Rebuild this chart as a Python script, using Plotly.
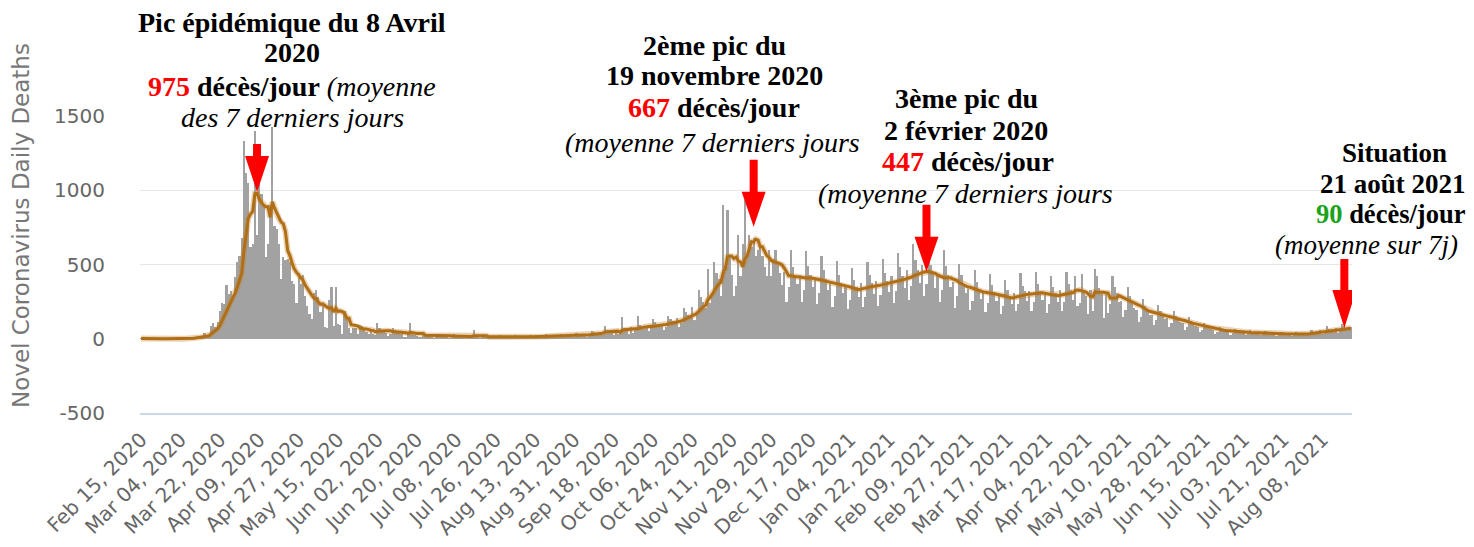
import pandas as pd
import plotly.graph_objects as go

# ---------------- data ----------------
START_DATE = "2020-02-15"          # first day shown
# daily deaths, one row per week (Sat .. Fri)
daily_deaths = [
    1, 0, 0, 0, 0, 0, 0,
    0, 0, 0, 0, 0, 0, 0,
    0, 0, 1, 1, 0, 2, 1,
    3, 2, 9, 8, 15, 13, 18,
    12, 36, 21, 27, 89, 108, 78,
    112, 186, 240, 231, 365, 299, 319,
    292, 418, 520, 560, 680, 1335, 1114,
    1047, 620, 640, 1400, 700, 1055, 974,
    907, 550, 640, 900, 1423, 760, 740,
    640, 400, 550, 530, 540, 520, 390,
    370, 240, 440, 370, 430, 290, 220,
    170, 135, 310, 330, 280, 180, 240,
    80, 70, 260, 350, 85, 350, 100,
    95, 35, 185, 130, 75, 40, 75,
    70, 35, 90, 85, 65, 45, 30,
    50, 30, 25, 107, 75, 60, 45,
    40, 20, 30, 70, 60, 55, 45,
    30, 10, 15, 40, 107, 30, 25,
    20, 8, 15, 40, 30, 30, 25,
    15, 5, 12, 35, 28, 25, 20,
    14, 4, 10, 30, 24, 20, 16,
    12, 4, 8, 25, 20, 60, 14,
    10, 3, 8, 25, 18, 14, 12,
    10, 3, 7, 22, 16, 14, 12,
    9, 3, 8, 22, 17, 13, 11,
    11, 4, 9, 25, 20, 15, 14,
    14, 5, 10, 30, 24, 19, 17,
    17, 6, 13, 35, 28, 23, 19,
    20, 8, 15, 40, 34, 28, 23,
    27, 10, 22, 52, 44, 38, 31,
    46, 27, 87, 62, 50, 45, 26,
    59, 30, 45, 145, 70, 52, 33,
    76, 40, 60, 150, 95, 75, 64,
    88, 50, 70, 133, 115, 100, 88,
    100, 60, 80, 155, 134, 118, 102,
    138, 80, 109, 210, 180, 160, 138,
    214, 124, 170, 330, 280, 250, 207,
    470, 240, 300, 520, 440, 400, 290,
    899, 450, 866, 560, 430, 290, 355,
    700, 420, 640, 933, 560, 698, 620,
    680, 560, 597, 620, 560, 480, 420,
    600, 420, 540, 600, 520, 440, 360,
    450, 250, 350, 600, 480, 430, 366,
    428, 245, 326, 592, 490, 428, 347,
    404, 231, 308, 558, 462, 404, 327,
    378, 216, 288, 522, 432, 378, 306,
    347, 198, 264, 479, 396, 347, 280,
    373, 213, 284, 515, 426, 373, 302,
    391, 223, 298, 539, 446, 391, 316,
    420, 240, 320, 580, 480, 420, 340,
    462, 264, 352, 638, 528, 462, 374,
    500, 290, 370, 640, 500, 440, 340,
    431, 246, 328, 595, 492, 431, 348,
    380, 205, 290, 505, 430, 365, 311,
    334, 191, 254, 461, 382, 334, 270,
    315, 180, 240, 435, 360, 315, 255,
    289, 165, 220, 399, 330, 289, 234,
    310, 190, 235, 440, 352, 320, 253,
    324, 185, 247, 448, 371, 324, 263,
    305, 174, 232, 421, 348, 305, 247,
    326, 186, 248, 450, 372, 326, 264,
    420, 220, 240, 435, 330, 290, 165,
    330, 190, 470, 420, 340, 300, 141,
    305, 174, 232, 421, 348, 305, 247,
    252, 144, 192, 348, 288, 252, 204,
    194, 111, 148, 268, 222, 194, 157,
    163, 93, 124, 225, 186, 163, 132,
    137, 78, 104, 189, 156, 137, 110,
    105, 60, 80, 145, 120, 105, 85,
    79, 45, 60, 109, 90, 79, 63,
    58, 33, 44, 80, 66, 58, 46,
    47, 27, 36, 65, 54, 47, 39,
    42, 24, 32, 58, 48, 42, 34,
    39, 22, 30, 54, 44, 39, 31,
    35, 20, 26, 48, 40, 35, 27,
    32, 18, 24, 44, 36, 32, 24,
    42, 24, 32, 58, 48, 42, 34,
    60, 34, 46, 83, 68, 60, 48,
    74, 42, 56, 102, 84, 74, 58,
    78,
]
AVG_WINDOW = 7                      # 7-day moving average

y_tick_values = [-500, 0, 500, 1000, 1500]
y_tick_labels = ["-500", "0", "500", "1000", "1500"]
x_tick_start = "2020-02-15"
x_tick_step_days = 18

# arrow targets (date, value at the tip)
arrow_dates = ["2020-04-08", "2020-11-21", "2021-02-08", "2021-08-18"]
arrow_values = [989, 754, 452, 72]
arrow_shaft_px = [12, 32, 32, 31]
arrow_head_px = [36, 35, 35, 38]

# ---------------- figure ----------------
dates = pd.date_range(START_DATE, periods=len(daily_deaths), freq="D")
series = pd.Series(daily_deaths, index=dates, dtype=float)
moving_avg = series.rolling(AVG_WINDOW, min_periods=1).mean()

PAGE_OFFSET = 8                     # default body margin of the html page
W, H = 1474 - PAGE_OFFSET, 547 - PAGE_OFFSET
PLOT_LEFT, PLOT_RIGHT, PLOT_TOP, PLOT_BOTTOM = 140, 1352, 116, 413   # page pixels
ML = PLOT_LEFT - PAGE_OFFSET
MT = PLOT_TOP - PAGE_OFFSET
MR = W - (PLOT_RIGHT - PAGE_OFFSET)
MB = H - (PLOT_BOTTOM - PAGE_OFFSET)
PW, PH = W - ML - MR, H - MT - MB

def px_x(px):
    return (px - PLOT_LEFT) / PW

def px_y(py):
    return (PLOT_BOTTOM - py) / PH

fig = go.Figure()
fig.add_trace(go.Bar(
    x=dates, y=series.values,
    marker=dict(color="#a2a2a2", line=dict(width=0)),
    hoverinfo="skip",
))
fig.add_trace(go.Scatter(
    x=dates, y=moving_avg.values, mode="lines",
    line=dict(color="rgba(196,130,40,0.35)", width=6),
    hoverinfo="skip",
))
fig.add_trace(go.Scatter(
    x=dates, y=moving_avg.values, mode="lines",
    line=dict(color="#b06f16", width=3),
))

half_day = pd.Timedelta(hours=12)
fig.update_layout(
    width=W, height=H,
    margin=dict(l=ML, r=MR, t=MT, b=MB, autoexpand=False),
    plot_bgcolor="white", paper_bgcolor="white",
    showlegend=False, bargap=0,
    xaxis=dict(
        type="date", automargin=False,
        range=[dates[0] - half_day, dates[-1] + half_day],
        tick0=x_tick_start, dtick=x_tick_step_days * 86400000,
        tickformat="%b %d, %Y", tickangle=-45,
        tickfont=dict(family="DejaVu Sans", size=20, color="#666666"),
        showgrid=False, zeroline=False,
        showline=True, linecolor="#ccd6eb", linewidth=2,
        ticks="outside", ticklen=5, tickcolor="rgba(0,0,0,0)",
    ),
    yaxis=dict(
        range=[-500, 1500], automargin=False,
        tickvals=y_tick_values, ticktext=y_tick_labels,
        tickfont=dict(family="DejaVu Sans", size=20, color="#666666"),
        showgrid=True, gridcolor="#e6e6e6", gridwidth=1,
        zeroline=False, showline=False,
        ticks="outside", ticklen=30, tickcolor="rgba(0,0,0,0)",
    ),
)

# y axis title
fig.add_annotation(
    text="Novel Coronavirus Daily Deaths", textangle=-90,
    xref="paper", yref="paper", x=px_x(21), y=px_y(226),
    xanchor="center", yanchor="middle", showarrow=False,
    font=dict(family="DejaVu Sans", size=23, color="#777777"),
)

# red arrows
for d, v, shaft, head in zip(arrow_dates, arrow_values, arrow_shaft_px, arrow_head_px):
    total = shaft + head
    path = (f"M0,0 L-12,{head} L-4,{head} L-4,{total} "
            f"L4,{total} L4,{head} L12,{head} Z")
    fig.add_shape(
        type="path", xref="x", yref="y",
        xsizemode="pixel", ysizemode="pixel",
        xanchor=d, yanchor=v, path=path,
        fillcolor="#ff0000", line=dict(width=0), layer="above",
    )

RED = "#ff0000"
GREEN = "#1aa31a"
text_lines = [
    (292, 22, 28, "<b>Pic épidémique du 8 Avril</b>"),
    (292, 52, 28, "<b>2020</b>"),
    (292, 87, 28, f"<b><span style='color:{RED}'>975</span> décès/jour</b> <i>(moyenne</i>"),
    (292, 118, 28, "<i>des 7 derniers jours</i>"),
    (714, 45, 28, "<b>2ème pic du</b>"),
    (714, 76, 28, "<b>19 novembre 2020</b>"),
    (714, 108, 28, f"<b><span style='color:{RED}'>667</span> décès/jour</b>"),
    (712, 142, 28, "<i>(moyenne 7 derniers jours</i>"),
    (966, 98, 28, "<b>3ème pic du</b>"),
    (966, 130, 28, "<b>2 février 2020</b>"),
    (968, 161, 28, f"<b><span style='color:{RED}'>447</span> décès/jour</b>"),
    (965, 193, 28, "<i>(moyenne 7 derniers jours</i>"),
    (1394, 153, 27, "<b>Situation</b>"),
    (1393, 184, 27, "<b>21 août 2021</b>"),
    (1391, 214, 26.5, f"<b><span style='color:{GREEN}'>90</span> décès/jour</b>"),
    (1366, 245, 27, "<i>(moyenne sur 7j)</i>"),
]
for x, y, size, t in text_lines:
    fig.add_annotation(
        text=t, xref="paper", yref="paper", x=px_x(x), y=px_y(y),
        xanchor="center", yanchor="middle", showarrow=False,
        font=dict(family="Liberation Serif", size=size, color="#000000"),
    )

fig.write_html("out.html")
